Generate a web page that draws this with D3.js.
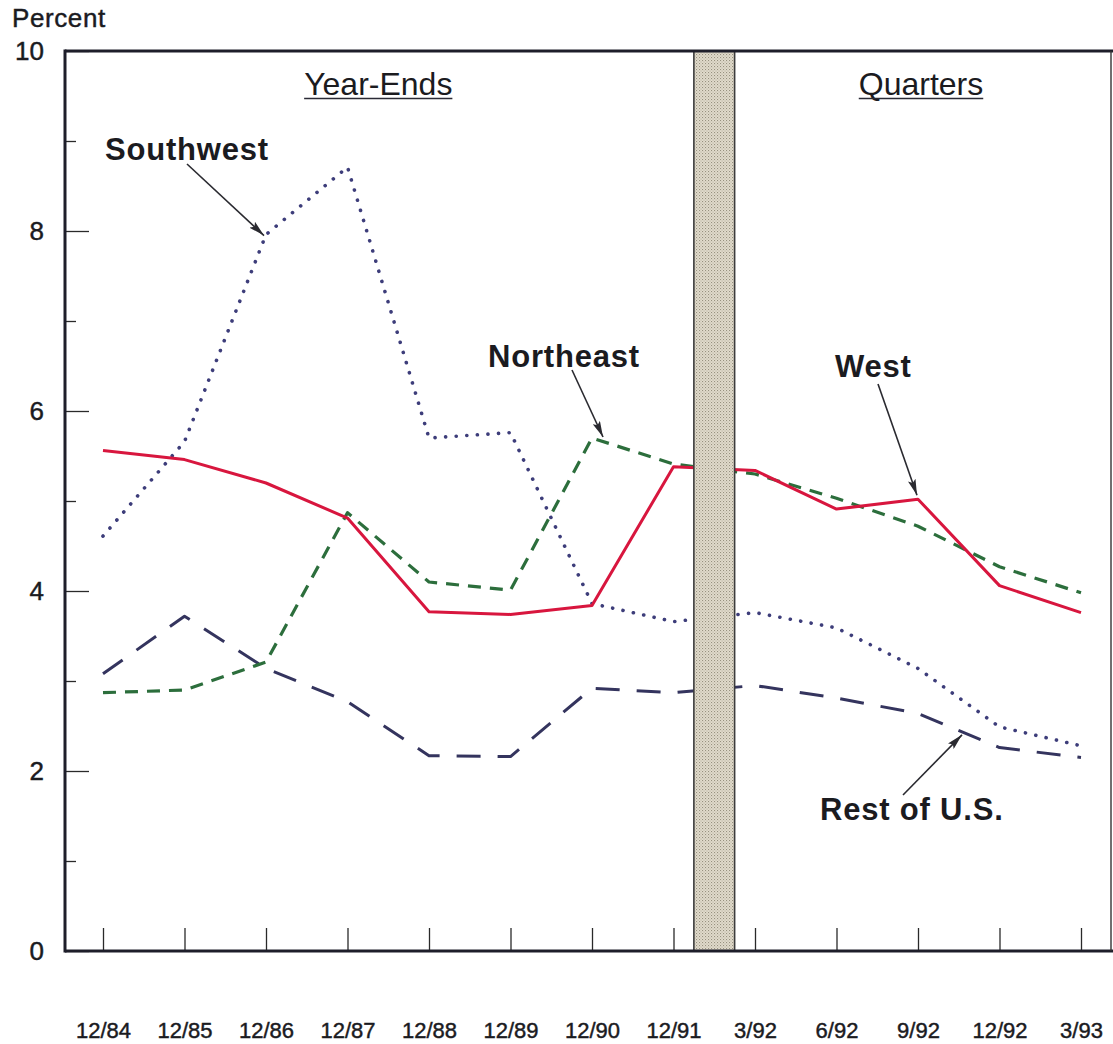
<!DOCTYPE html>
<html>
<head>
<meta charset="utf-8">
<script src="https://cdn.jsdelivr.net/npm/d3@7/dist/d3.min.js"></script>
<style>
  html, body { margin: 0; padding: 0; background: #ffffff; }
  svg text { font-family: "Liberation Sans", Arial, Helvetica, sans-serif; fill: #1b1b1f; }
  svg text.ink { stroke: #1b1b1f; stroke-width: 0.45px; }
</style>
</head>
<body>
<div class="chart_box"></div>
<script>
//<data>--------------------------------------//
var periods = ["12/84", "12/85", "12/86", "12/87", "12/88", "12/89", "12/90", "12/91", "3/92", "6/92", "9/92", "12/92", "3/93"];
var west = [5.56, 5.46, 5.20, 4.81, 3.77, 3.74, 3.84, 5.38, 5.34, 4.91, 5.02, 4.06, 3.76];
var northeast = [2.87, 2.90, 3.21, 4.87, 4.10, 4.01, 5.70, 5.41, 5.30, 5.03, 4.72, 4.27, 3.98];
var southwest = [4.61, 5.66, 7.96, 8.71, 5.70, 5.76, 3.86, 3.66, 3.76, 3.59, 3.14, 2.49, 2.28];
var restOfUS = [3.08, 3.72, 3.14, 2.77, 2.17, 2.16, 2.92, 2.87, 2.95, 2.81, 2.64, 2.26, 2.15];
var yTicks = [0, 1, 2, 3, 4, 5, 6, 7, 8, 9, 10];

//<setMargin>-------------------------------//
var W = 1113, H = 1044;
var plot = { left: 65, right: 1111, top: 51, bottom: 951 };

var svg = d3.select(".chart_box").append("svg")
    .attr("width", W).attr("height", H)
    .attr("viewBox", "0 0 " + W + " " + H);

var x = d3.scalePoint().domain(periods).range([103, 1081]);
var y = d3.scaleLinear().domain([0, 10]).range([plot.bottom, plot.top]);
var step = x.step();

//<pattern for break bar>--------------------//
var defs = svg.append("defs");
var pat = defs.append("pattern").attr("id", "stipple")
    .attr("width", 3).attr("height", 3).attr("patternUnits", "userSpaceOnUse");
pat.append("rect").attr("width", 3).attr("height", 3).attr("fill", "#e2dccd");
pat.append("rect").attr("x", 0).attr("y", 0).attr("width", 1.1).attr("height", 1.1).attr("fill", "#97917f");
pat.append("rect").attr("x", 1.5).attr("y", 1.5).attr("width", 1.1).attr("height", 1.1).attr("fill", "#b4ae9c");

defs.append("marker").attr("id", "arrowHead")
    .attr("viewBox", "0 0 16 8").attr("refX", 16).attr("refY", 4)
    .attr("markerWidth", 16).attr("markerHeight", 8)
    .attr("markerUnits", "userSpaceOnUse").attr("orient", "auto")
    .append("path").attr("d", "M0,0 L16,4 L0,8 L3,4 Z").attr("fill", "#2a2a30");

//<lines>-----------------------------------//
var line = d3.line().x(function (d, i) { return x(periods[i]); }).y(function (d) { return y(d); });

var series = [
    { name: "Rest of U.S.", values: restOfUS, color: "#34345e", width: 3, dash: "24,17", cap: "butt" },
    { name: "Southwest", values: southwest, color: "#3d3d7a", width: 3.6, dash: "0.1,10.5", cap: "round" },
    { name: "Northeast", values: northeast, color: "#2c6e3c", width: 3.2, dash: "13,9", cap: "butt" },
    { name: "West", values: west, color: "#d8163e", width: 3, dash: null, cap: "butt" }
];

var gLines = svg.append("g").attr("id", "lines");
series.forEach(function (s) {
    gLines.append("path")
        .attr("d", line(s.values))
        .attr("fill", "none")
        .attr("stroke", s.color)
        .attr("stroke-width", s.width)
        .attr("stroke-linecap", s.cap)
        .attr("stroke-linejoin", "round")
        .attr("stroke-dasharray", s.dash);
});

//<break bar between year-ends and quarters>-------//
var barX0 = x("12/91") + step * 0.25, barX1 = x("12/91") + step * 0.75;
svg.append("rect")
    .attr("x", barX0).attr("y", plot.top)
    .attr("width", barX1 - barX0).attr("height", plot.bottom - plot.top)
    .attr("fill", "url(#stipple)")
    .attr("stroke", "#3c3c3c").attr("stroke-width", 1.6);

//<axes>------------------------------------//
var xAxis = svg.append("g").attr("transform", "translate(0," + plot.bottom + ")")
    .call(d3.axisBottom(x).tickSizeInner(-23).tickSizeOuter(0).tickPadding(71));
xAxis.select(".domain").remove();
xAxis.selectAll("line").attr("stroke", "#2a2a2a").attr("stroke-width", 1.3);
xAxis.selectAll("text").attr("class", "ink").style("font-size", "22px").attr("fill", "#1b1b1f");

var yAxis = svg.append("g").attr("transform", "translate(" + plot.left + ",0)")
    .call(d3.axisLeft(y).tickValues(yTicks).tickSizeOuter(0).tickSizeInner(-24).tickPadding(21)
        .tickFormat(function (d) { return d % 2 === 0 ? d : ""; }));
yAxis.select(".domain").remove();
yAxis.selectAll("line").attr("stroke", "#2a2a2a").attr("stroke-width", 1.3)
    .attr("x2", function (d) { return d % 2 === 0 ? 24 : 11; });
yAxis.selectAll("text").attr("class", "ink").style("font-size", "26px").attr("fill", "#1b1b1f");

//<frame>-----------------------------------//
svg.append("line").attr("x1", plot.left).attr("x2", W).attr("y1", plot.top).attr("y2", plot.top)
    .attr("stroke", "#1e1e2a").attr("stroke-width", 3);
svg.append("line").attr("x1", plot.left).attr("x2", W).attr("y1", plot.bottom).attr("y2", plot.bottom)
    .attr("stroke", "#1e1e2a").attr("stroke-width", 3);
svg.append("line").attr("x1", plot.left).attr("x2", plot.left).attr("y1", plot.top - 1.5).attr("y2", plot.bottom + 1.5)
    .attr("stroke", "#1e1e2a").attr("stroke-width", 3);
svg.append("line").attr("x1", plot.right).attr("x2", plot.right).attr("y1", plot.top).attr("y2", plot.bottom)
    .attr("stroke", "#333").attr("stroke-width", 1.4);

svg.append("text").attr("class", "ink").attr("x", 12).attr("y", 27).text("Percent")
    .style("font-size", "26px").style("letter-spacing", "0.6px");

//<section titles>--------------------------//
function underlinedTitle(txt, cx) {
    var t = svg.append("text").attr("x", cx).attr("y", 95)
        .attr("text-anchor", "middle").style("font-size", "32px").text(txt);
    var w = t.node().getComputedTextLength();
    svg.append("line").attr("x1", cx - w / 2).attr("x2", cx + w / 2)
        .attr("y1", 98.5).attr("y2", 98.5).attr("stroke", "#2a2a35").attr("stroke-width", 1.6);
}
underlinedTitle("Year-Ends", (x("12/86") + x("12/89")) / 2 - 10);
underlinedTitle("Quarters", (x("6/92") + x("12/92")) / 2 + 3);

//<annotations>-----------------------------//
var notes = [
    { text: "Southwest", tx: 105, ty: 160, from: [187, 164], to: [x("12/86") - 2, y(southwest[2]) + 1] },
    { text: "Northeast", tx: 488, ty: 367, from: [572, 370], to: [x("12/90") + 11, y(northeast[6]) - 1] },
    { text: "West", tx: 835, ty: 377, from: [878, 384], to: [x("9/92") - 1, y(west[10]) - 4] },
    { text: "Rest of U.S.", tx: 820, ty: 820, from: [903, 795], to: [x("9/92") + step * 0.54, y(restOfUS[10] + (restOfUS[11] - restOfUS[10]) * 0.54) + 3] }
];
notes.forEach(function (n) {
    svg.append("text").attr("x", n.tx).attr("y", n.ty).text(n.text)
        .style("font-size", "31px").style("font-weight", "bold").style("letter-spacing", "0.8px");
    svg.append("line")
        .attr("x1", n.from[0]).attr("y1", n.from[1]).attr("x2", n.to[0]).attr("y2", n.to[1])
        .attr("stroke", "#2a2a30").attr("stroke-width", 1.6)
        .attr("marker-end", "url(#arrowHead)");
});
</script>
</body>
</html>
